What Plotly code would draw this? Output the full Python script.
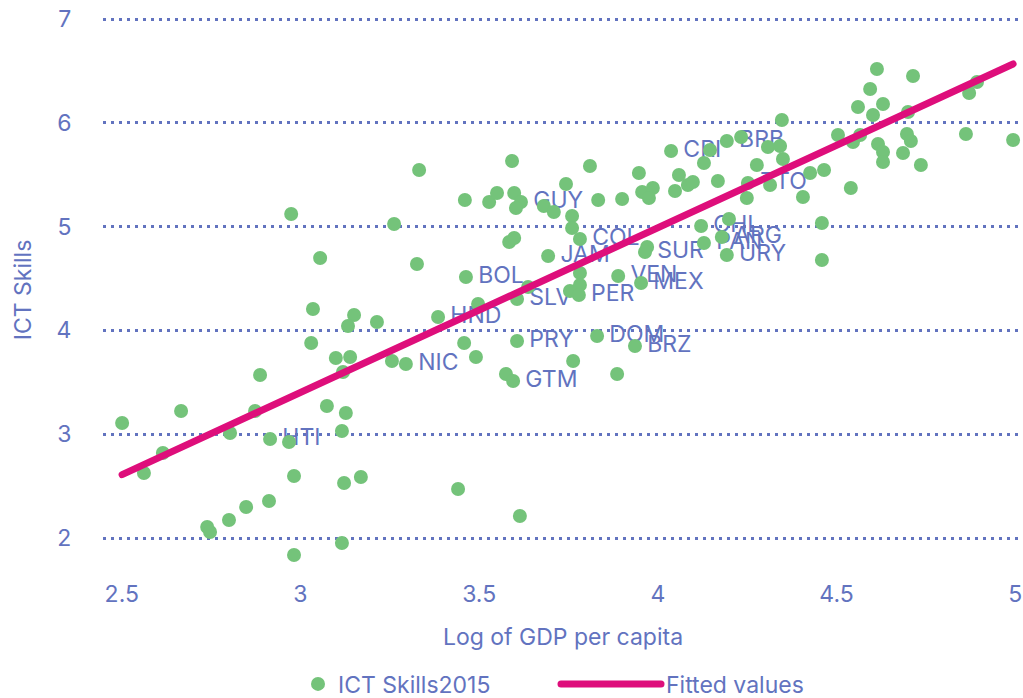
import numpy as np
import plotly.graph_objects as go

# Log of GDP per capita and ICT skills score, one entry per country
log_gdp = [
    2.501, 2.562, 2.666, 2.615, 2.803, 2.873, 2.915, 2.968, 3.074, 3.127,
    3.116, 2.982, 3.122, 3.169, 2.912, 2.848, 2.800, 2.739, 2.747, 3.116,
    2.982, 2.887, 3.332, 2.974, 3.262, 3.460, 3.528, 3.550, 3.055, 3.326,
    3.463, 3.035, 3.150, 3.133, 3.214, 3.385, 3.497, 3.030, 3.099, 3.139,
    3.119, 3.256, 3.295, 3.458, 3.491, 3.575, 3.595, 3.606, 3.763, 3.830,
    3.886, 3.936, 3.441, 3.614, 3.592, 3.810, 3.598, 3.617, 3.603, 3.743,
    3.681, 3.709, 3.760, 3.760, 3.782, 3.833, 3.900, 3.947, 3.956, 3.986,
    3.975, 4.037, 4.048, 4.059, 4.084, 4.098, 3.584, 3.598, 3.693, 3.782,
    3.782, 3.754, 3.779, 3.637, 3.606, 3.889, 3.953, 3.970, 3.964, 4.121,
    4.129, 4.199, 4.179, 4.193, 4.347, 4.146, 4.193, 4.233, 4.308, 4.342,
    4.350, 4.129, 4.277, 4.168, 4.252, 4.249, 4.314, 4.406, 4.426, 4.465,
    4.504, 4.540, 4.459, 4.459, 4.613, 4.714, 4.594, 4.560, 4.630, 4.602,
    4.700, 4.893, 4.871, 4.994, 4.862, 4.546, 4.566, 4.616, 4.630, 4.630,
    4.697, 4.708, 4.686, 4.736,
]
ict_skills = [
    3.108, 2.626, 3.224, 2.819, 3.012, 3.224, 2.954, 2.925, 3.272, 3.204,
    3.031, 2.597, 2.530, 2.588, 2.356, 2.299, 2.173, 2.106, 2.058, 1.952,
    1.836, 3.570, 5.545, 5.121, 5.025, 5.256, 5.237, 5.324, 4.698, 4.640,
    4.514, 4.206, 4.148, 4.042, 4.081, 4.129, 4.254, 3.879, 3.734, 3.744,
    3.599, 3.705, 3.676, 3.879, 3.744, 3.580, 3.513, 3.898, 3.705, 3.946,
    3.580, 3.850, 2.472, 2.212, 5.632, 5.584, 5.324, 5.237, 5.179, 5.410,
    5.198, 5.141, 5.102, 4.987, 4.881, 5.256, 5.266, 5.516, 5.333, 5.372,
    5.276, 5.728, 5.343, 5.497, 5.401, 5.430, 4.852, 4.890, 4.717, 4.553,
    4.437, 4.380, 4.341, 4.418, 4.303, 4.524, 4.457, 4.803, 4.755, 5.006,
    4.842, 5.073, 4.900, 4.726, 6.027, 5.738, 5.825, 5.863, 5.767, 5.777,
    5.651, 5.613, 5.593, 5.439, 5.420, 5.276, 5.401, 5.285, 5.516, 5.545,
    5.882, 5.372, 5.035, 4.678, 6.518, 6.451, 6.326, 6.152, 6.181, 6.075,
    6.104, 6.393, 6.287, 5.834, 5.892, 5.815, 5.882, 5.796, 5.719, 5.622,
    5.892, 5.825, 5.709, 5.593,
]
# Country codes shown next to the Latin American and Caribbean points
country_code = [""] * len(log_gdp)
labelled = {
    6: "HTI", 30: "BOL", 35: "HND", 42: "NIC", 46: "GTM", 47: "PRY",
    49: "DOM", 51: "BRZ", 57: "GUY", 64: "COL", 71: "CRI", 78: "JAM",
    82: "PER", 84: "SLV", 85: "VEN", 86: "MEX", 88: "SUR", 89: "CHL",
    90: "PAN", 92: "ARG", 93: "URY", 96: "BRB", 104: "TTO",
}
for idx, code in labelled.items():
    country_code[idx] = code

x_ticks = [2.5, 3, 3.5, 4, 4.5, 5]
y_ticks = [2, 3, 4, 5, 6, 7]

TEXT = "#6273BF"
GREEN = "#74C37A"
PINK = "#DE0E7B"
FONT = "Inter"
FS = 23

# Linear fit of skills on log GDP
slope, intercept = np.polyfit(log_gdp, ict_skills, 1)
fit_x = [min(log_gdp), max(log_gdp)]
fit_y = [intercept + slope * v for v in fit_x]

fig = go.Figure()

# Country labels sit underneath the markers
fig.add_trace(go.Scatter(
    x=log_gdp, y=ict_skills, mode="markers+text", text=country_code,
    textposition="middle right",
    textfont=dict(family=FONT, size=FS, color=TEXT),
    marker=dict(size=18, opacity=0),
    showlegend=False, hoverinfo="skip",
))
fig.add_trace(go.Scatter(
    x=log_gdp, y=ict_skills, mode="markers", name="ICT Skills2015",
    marker=dict(size=14, color=GREEN, line=dict(width=0)),
    legend="legend",
))
fig.add_trace(go.Scatter(
    x=fit_x, y=fit_y, mode="lines", name="Fitted values",
    line=dict(color=PINK, width=7),
    legend="legend2",
))

fig.update_layout(
    width=1023, height=698,
    margin=dict(l=103, r=0, t=10, b=128),
    paper_bgcolor="white", plot_bgcolor="white",
    font=dict(family=FONT, size=FS, color=TEXT),
    xaxis=dict(
        range=[2.4475, 5.0217], tickvals=x_ticks,
        ticktext=[f"{v:g}" for v in x_ticks],
        showgrid=False, zeroline=False, showline=False,
        ticks="outside", ticklen=3, tickcolor="rgba(0,0,0,0)",
        tickfont=dict(family=FONT, size=FS, color=TEXT),
        title=dict(text="Log of GDP per capita", standoff=22,
                   font=dict(family=FONT, size=FS, color=TEXT)),
        automargin=False,
    ),
    yaxis=dict(
        range=[1.6917, 7.0867], tickvals=y_ticks,
        showgrid=True, gridcolor=TEXT, gridwidth=3, griddash="3px,5px",
        zeroline=False, showline=False,
        ticks="outside", ticklen=26, tickcolor="rgba(0,0,0,0)",
        tickfont=dict(family=FONT, size=FS, color=TEXT),
        title=dict(text="ICT Skills", standoff=18,
                   font=dict(family=FONT, size=FS, color=TEXT)),
        automargin=False,
    ),
    legend=dict(
        orientation="h", xref="container", yref="container",
        x=0.2913, y=0.0201, xanchor="left", yanchor="middle",
        font=dict(family=FONT, size=FS, color=TEXT),
        bgcolor="rgba(0,0,0,0)", itemwidth=30,
    ),
    legend2=dict(
        orientation="h", xref="container", yref="container",
        x=0.5435, y=0.0201, xanchor="left", yanchor="middle",
        font=dict(family=FONT, size=FS, color=TEXT),
        bgcolor="rgba(0,0,0,0)", itemwidth=100,
    ),
)

round_caps = """
var gd = document.getElementById('{plot_id}');
function roundCaps() {
  gd.querySelectorAll('path.js-line').forEach(function (p) {
    p.style.strokeLinecap = 'round';
  });
}
roundCaps();
gd.on('plotly_afterplot', roundCaps);
"""

fig.write_html("out.html", post_script=round_caps)
